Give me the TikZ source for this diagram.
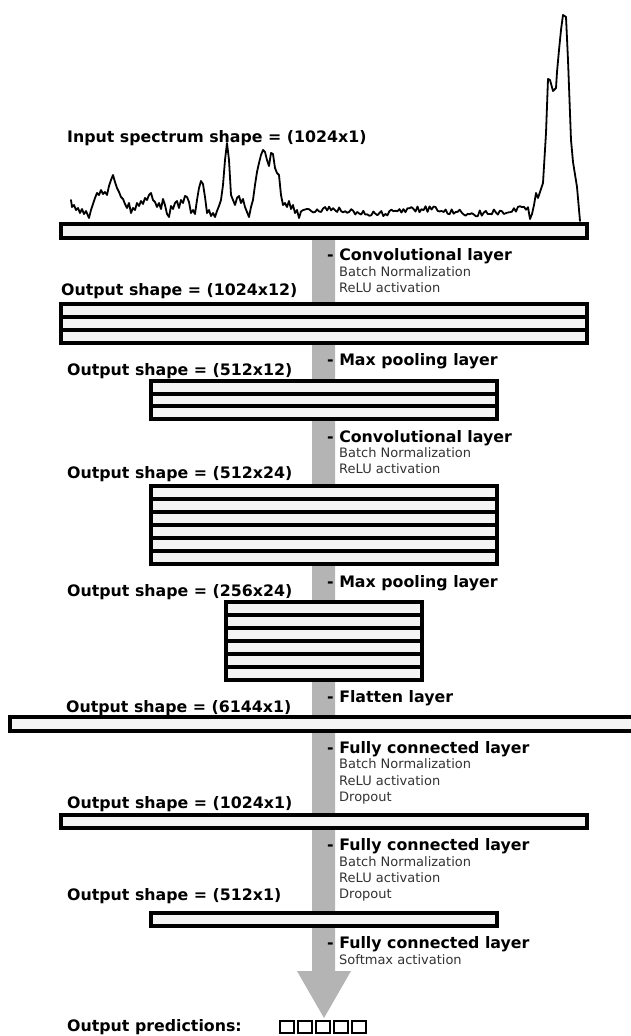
\documentclass[tikz,border=0pt]{standalone}
\usepackage{fontspec}
\setmainfont{DejaVu Sans}
\definecolor{arrowgray}{RGB}{180,180,180}
\definecolor{boxfill}{RGB}{244,244,244}
\definecolor{smallgray}{RGB}{50,50,50}
\tikzset{
  big/.style={font=\bfseries\fontsize{15.8}{18}\selectfont, anchor=base west, inner sep=0pt, text=black},
  small/.style={font=\fontsize{13}{15}\selectfont, anchor=base west, inner sep=0pt, text=smallgray},
  boxst/.style={draw=black, line width=3.1pt, fill=boxfill},
  divst/.style={draw=black, line width=3.1pt},
  sqst/.style={draw=black, line width=2.9pt, fill=white},
  specst/.style={draw=black, line width=1.8pt, line join=round, line cap=round}
}
\begin{document}
\begin{tikzpicture}[x=1pt,y=-1pt]
\useasboundingbox (0,0) rectangle (631,1036);
\pgfmathsetseed{11}
% big gray arrow (drawn first, behind boxes)
\fill[arrowgray] (312,238) -- (335,238) -- (335,971) -- (351,971) -- (324,1018) -- (297,971) -- (312,971) -- cycle;
% spectrum
\draw[specst] (71,200) -- (72,207) -- (74,205) -- (76,210) -- (78,208) -- (80,213) -- (82,209) -- (84,214) -- (86,211) -- (89,218) -- (91,210) -- (93,204) -- (95,198) -- (97,193) -- (99,195) -- (101,190) -- (103,194) -- (105,192) -- (107,195) -- (109,186) -- (111,180) -- (113,175) -- (115,182) -- (117,188) -- (119,192) -- (121,197) -- (123,199) -- (125,204) -- (127,208) -- (129,203) -- (131,213) -- (133,208) -- (135,210) -- (137,203) -- (139,206) -- (141,201) -- (143,204) -- (145,198) -- (147,200) -- (149,195) -- (151,193) -- (153,200) -- (155,202) -- (157,207) -- (159,203) -- (161,209) -- (163,199) -- (165,205) -- (167,214) -- (169,217) -- (171,206) -- (173,209) -- (175,203) -- (177,201) -- (179,208) -- (181,200) -- (183,203) -- (185,196) -- (187,197) -- (189,202) -- (191,213) -- (193,210) -- (195,214) -- (197,200) -- (199,188) -- (201,181) -- (203,184) -- (205,197) -- (207,213) -- (209,210) -- (211,216) -- (213,213) -- (215,217) -- (217,211) -- (219,206) -- (221,200) -- (223,185) -- (225,160) -- (227,143) -- (229,160) -- (231,195) -- (233,200) -- (235,205) -- (237,198) -- (239,196) -- (241,203) -- (243,199) -- (245,207) -- (247,212) -- (249,217) -- (251,207) -- (253,200) -- (255,185) -- (257,172) -- (259,163) -- (261,155) -- (263,150) -- (265,152) -- (267,160) -- (269,166) -- (271,153) -- (273,154) -- (275,168) -- (277,173) -- (279,175) -- (281,195) -- (283,205) -- (285,203) -- (287,207) -- (289,201) -- (291,209) -- (293,205) -- (295,213) -- (297,210) -- (299,218)
 -- plot[domain=301:528, samples=114] (\x, {211.5 + 3.2*rand - 2.2*sin((\x-300)*3.6)})
 -- (530,219) -- (532,214) -- (534,205) -- (536,193) -- (538,198) -- (540,192) -- (543,183) -- (546,133) -- (548,79) -- (550,80) -- (553,91) -- (556,88) -- (557,72) -- (559,50) -- (561,30) -- (563,15) -- (566,17) -- (568,60) -- (571,140) -- (573,162) -- (577,187) -- (580,221);
% input bar
\draw[boxst] (61,224) rectangle (587,238);
% box 1 (1024x12)
\draw[boxst] (61,304) rectangle (587,343);
\draw[divst] (61,317) -- (587,317) (61,330) -- (587,330);
% box 2 (512x12)
\draw[boxst] (151,381) rectangle (497,419);
\draw[divst] (151,394) -- (497,394) (151,406) -- (497,406);
% box 3 (512x24)
\draw[boxst] (151,486) rectangle (497,564);
\foreach \yy in {499,512,525,538,551} \draw[divst] (151,\yy) -- (497,\yy);
% box 4 (256x24)
\draw[boxst] (226,602) rectangle (422,680);
\foreach \yy in {615,628,641,654,667} \draw[divst] (226,\yy) -- (422,\yy);
% flatten bar
\draw[boxst] (10,717) rectangle (650,731);
% FC bars
\draw[boxst] (61,815) rectangle (587,828);
\draw[boxst] (151,913) rectangle (497,926);
% output squares
\foreach \i in {0,...,4} \draw[sqst] ({280+18*\i},1021) rectangle ({294+18*\i},1033);
% left labels
\node[big] (lin) at (67,142) {Input spectrum shape = (1024x1)};
\node[big] (l1) at (61,295) {Output shape = (1024x12)};
\node[big] (l2) at (67,375) {Output shape = (512x12)};
\node[big] (l3) at (67,478) {Output shape = (512x24)};
\node[big] (l4) at (67,596) {Output shape = (256x24)};
\node[big] (l5) at (66,712) {Output shape = (6144x1)};
\node[big] (l6) at (67,808) {Output shape = (1024x1)};
\node[big] (l7) at (67,900) {Output shape = (512x1)};
\node[big] (lout) at (67,1031) {Output predictions:};
% right labels
\node[big] (r1) at (327,260) {- Convolutional layer};
\node[small] (r1a) at (339,276) {Batch Normalization};
\node[small] (r1b) at (339,292) {ReLU activation};
\node[big] (r2) at (327,365) {- Max pooling layer};
\node[big] (r3) at (327,442) {- Convolutional layer};
\node[small] (r3a) at (339,457) {Batch Normalization};
\node[small] (r3b) at (339,473) {ReLU activation};
\node[big] (r4) at (327,587) {- Max pooling layer};
\node[big] (r5) at (327,702) {- Flatten layer};
\node[big] (r6) at (327,753) {- Fully connected layer};
\node[small] (r6a) at (339,768) {Batch Normalization};
\node[small] (r6b) at (339,785) {ReLU activation};
\node[small] (r6c) at (339,801) {Dropout};
\node[big] (r7) at (327,850) {- Fully connected layer};
\node[small] (r7a) at (339,866) {Batch Normalization};
\node[small] (r7b) at (339,882) {ReLU activation};
\node[small] (r7c) at (339,898) {Dropout};
\node[big] (r8) at (327,948) {- Fully connected layer};
\node[small] (r8a) at (339,964) {Softmax activation};
\end{tikzpicture}
\end{document}
